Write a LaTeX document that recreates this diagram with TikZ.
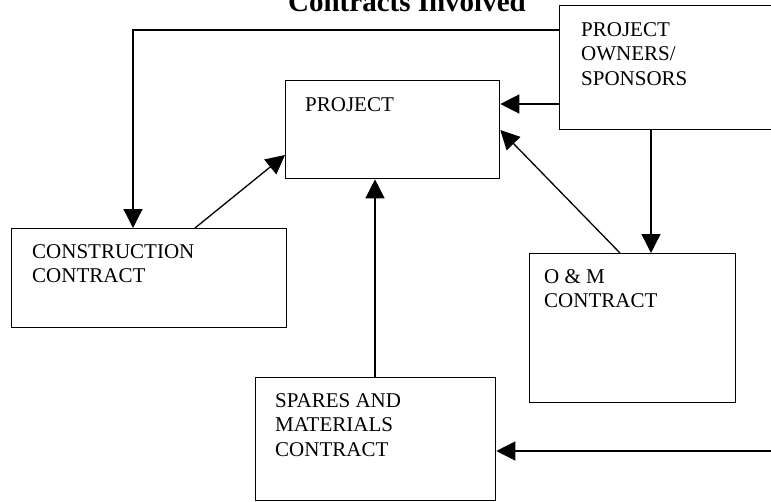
\documentclass[tikz,border=0pt]{standalone}
\usepackage{fontspec}
\setmainfont{Liberation Serif}
\usetikzlibrary{arrows.meta}

\tikzset{
  box/.style={draw, line width=1.3pt, rectangle, anchor=north west, inner sep=0pt},
  lbl/.style={anchor=north west, inner sep=0pt, align=left,
    font=\fontsize{21}{24.5}\selectfont},
  arr/.style={line width=1.3pt, -{Triangle[length=19pt,width=19pt]}}
}

\begin{document}
\begin{tikzpicture}[x=1pt, y=-1pt]
  \useasboundingbox (0,0) rectangle (771,501);

  % heading
  \node[anchor=base, inner sep=0pt, font=\bfseries\fontsize{29}{30}\selectfont]
    (title) at (407,11) {Contracts Involved};

  % boxes
  \node[box, minimum width=230pt, minimum height=124pt] (owners) at (559,5) {};
  \node[box, minimum width=214pt, minimum height=98pt]  (project) at (285,80) {};
  \node[box, minimum width=275pt, minimum height=99pt]  (cons) at (11,228) {};
  \node[box, minimum width=206pt, minimum height=149pt] (om) at (529,253) {};
  \node[box, minimum width=240pt, minimum height=123pt] (spares) at (255,377) {};

  % box labels
  \node[lbl] (ownersT)  at (581,22.1)  {PROJECT\\OWNERS/\\SPONSORS};
  \node[lbl] (projectT) at (305,97.1)  {PROJECT};
  \node[lbl] (consT)    at (32,244.1)  {CONSTRUCTION\\CONTRACT};
  \node[lbl] (omT)      at (544,269.1) {O \& M\\CONTRACT};
  \node[lbl] (sparesT)  at (275,393.1) {SPARES AND\\MATERIALS\\CONTRACT};

  % connector anchor points
  \coordinate (o1) at ([yshift=-25pt]owners.north west);
  \coordinate (o2) at ([yshift=-99pt]owners.north west);
  \coordinate (o3) at ([xshift=92pt]owners.south west);
  \coordinate (s1) at ([xshift=120pt]spares.north west);
  \coordinate (feed) at (776,451);

  % connectors
  \draw[arr] (o1) -| ([xshift=122pt]cons.north west);
  \draw[arr] (o2) -- (o2 -| project.east);
  \draw[arr] (o3) -- (o3 |- om.north);
  \draw[arr] ([xshift=91pt]om.north west) -- ([yshift=-50pt]project.north east);
  \draw[arr] ([xshift=184pt]cons.north west) -- ([yshift=-75pt]project.north west);
  \draw[arr] (s1) -- (s1 |- project.south);
  \draw[arr] (feed) -- (feed -| spares.east);
\end{tikzpicture}
\end{document}
